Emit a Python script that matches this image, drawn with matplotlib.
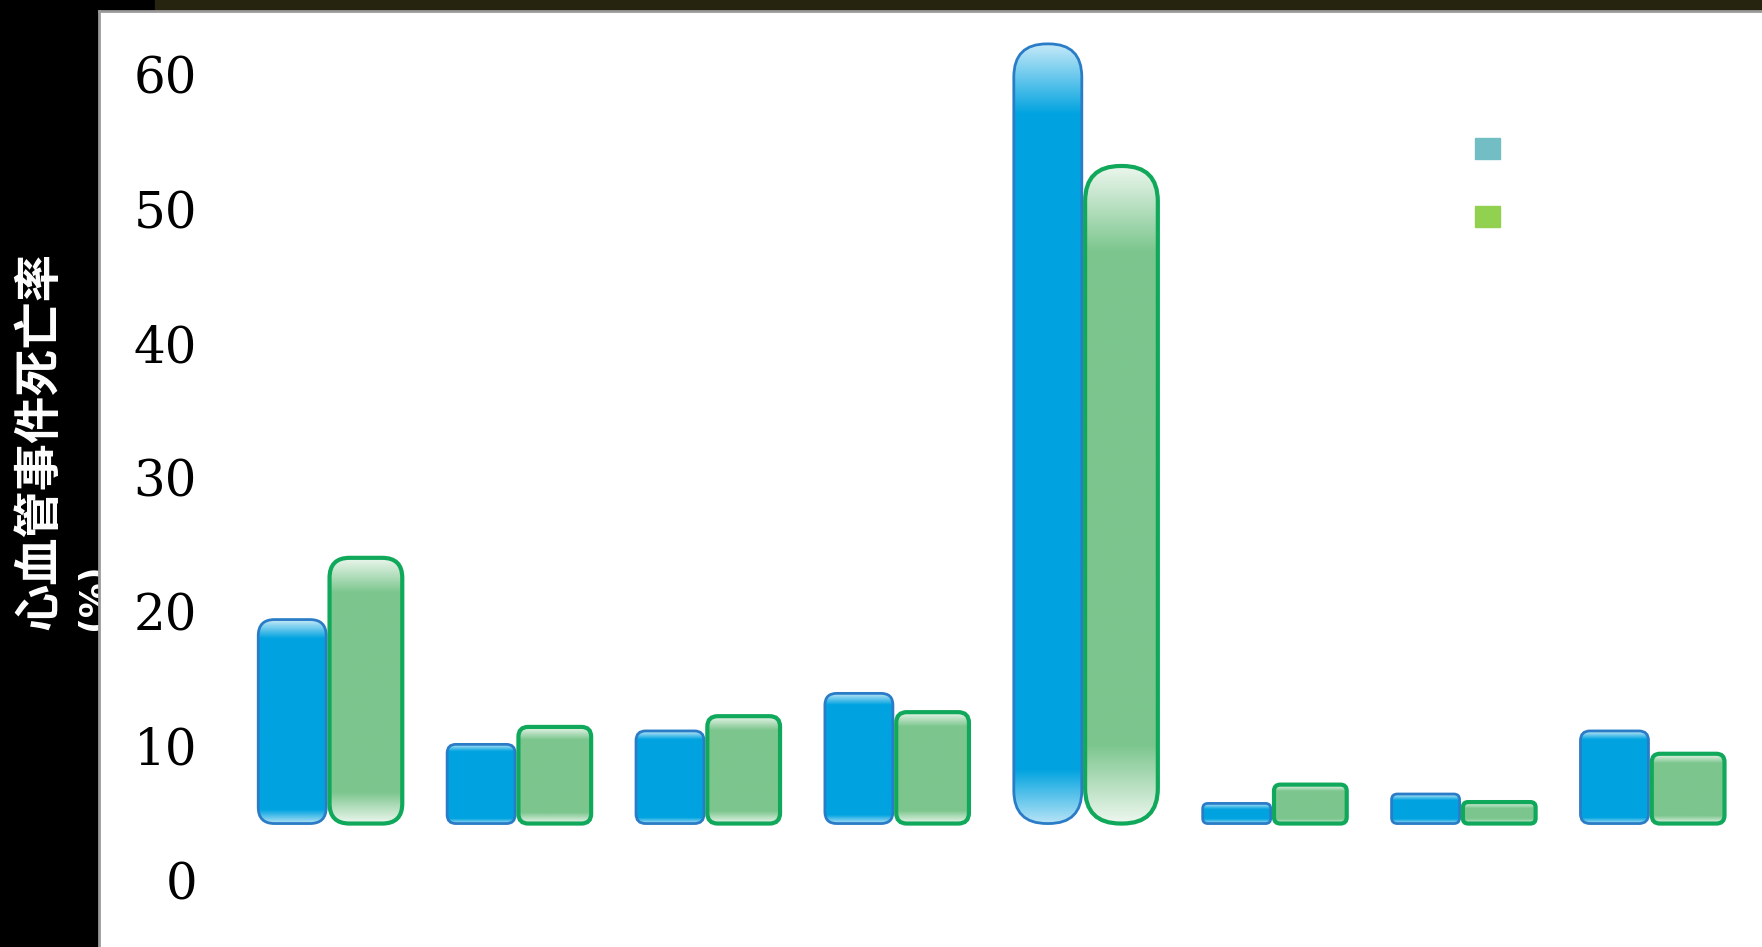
import numpy as np
import matplotlib
matplotlib.use('Agg')
import matplotlib.pyplot as plt
from matplotlib.patches import FancyBboxPatch, Patch, Rectangle

# ---- data ----
groups = np.arange(8)
series_a = [19.4, 10.1, 11.1, 13.9, 62.3, 5.7, 6.4, 11.1]
series_b = [24.0, 11.4, 12.2, 12.5, 53.2, 7.1, 5.8, 9.4]
base = 4.2
yticks = [0, 10, 20, 30, 40, 50, 60]
ylabel = "心血管事件死亡率"
ylabel_unit = "(%)"
legend_colors = ['#72BEC4', '#92D050']

W, H = 1762, 947
fig = plt.figure(figsize=(W / 100, H / 100), dpi=100, facecolor='black')
# top dark strip
fig.patches.append(Rectangle((155 / W, 1 - 11 / H), 1, 11 / H, transform=fig.transFigure,
                             color='#26240f', zorder=-2))
ax = fig.add_axes([99 / W, 0, 1 - 99 / W, (H - 11) / H])
ax.set_facecolor('white')
xlim = (-1.218, 7.586)
ylim = (-5.0, 64.75)
ax.set_xlim(*xlim)
ax.set_ylim(*ylim)

px_x = (W - 99) / (xlim[1] - xlim[0])
px_y = (H - 11) / (ylim[1] - ylim[0])

bars_a = ax.bar(groups - 0.195, np.array(series_a) - base, bottom=base, width=0.36, alpha=0)
bars_b = ax.bar(groups + 0.195, np.array(series_b) - base, bottom=base, width=0.385, alpha=0)


def hex2rgb(h):
    h = h.lstrip('#')
    return np.array([int(h[i:i + 2], 16) / 255 for i in (0, 2, 4)])


def fancy(rect, body, light, edge, lw, lt, lb, ts, bs):
    x0, y0, w, h = rect.get_x(), rect.get_y(), rect.get_width(), rect.get_height()
    wpx, hpx = w * px_x, h * px_y
    R = min(0.06 * hpx + 4, wpx / 2 - 1)
    r = R / px_x
    m = px_x / px_y
    patch = FancyBboxPatch((x0, y0), w, h, boxstyle=f"round,pad=0,rounding_size={r}",
                           mutation_aspect=m, fc='none', ec=edge, lw=lw, zorder=3)
    ax.add_patch(patch)
    n = max(int(hpx), 2)
    d = (np.arange(n) + 0.5) * hpx / n
    Lt = max(lt * hpx, 6)
    Lb = max(lb * hpx, 5)
    wt = np.clip(1 - d / Lt, 0, 1)
    wb = np.clip(1 - (hpx - d) / Lb, 0, 1)
    wgt = np.maximum(wt * ts, wb * bs)
    b = hex2rgb(body)
    l = hex2rgb(light)
    cols = b[None, :] * (1 - wgt[:, None]) + l[None, :] * wgt[:, None]
    img = np.repeat(cols[:, None, :], 2, axis=1)
    im = ax.imshow(img, extent=[x0, x0 + w, y0, y0 + h], origin='upper', aspect='auto',
                   zorder=2, interpolation='bilinear')
    im.set_clip_path(patch)


for rect in bars_a:
    fancy(rect, '#00A3E0', '#E8F5FC', '#2A7CC7', 2.0, 0.09, 0.07, 0.85, 0.8)
for rect in bars_b:
    fancy(rect, '#7CC68E', '#F6FBF6', '#10A85A', 3.0, 0.13, 0.12, 0.92, 0.95)

ax.set_xlim(*xlim)
ax.set_ylim(*ylim)
ax.set_xticks([])
ax.set_yticks(yticks)
ax.set_yticklabels([str(t) for t in yticks], fontfamily='DejaVu Serif', fontsize=36, color='black')
ax.tick_params(axis='y', length=0, pad=-70.6)
for s in ('bottom', 'right'):
    ax.spines[s].set_visible(False)
for s in ('left', 'top'):
    ax.spines[s].set_color('#9a9a9a')
    ax.spines[s].set_linewidth(2)

handles = [Patch(color=c) for c in legend_colors]
ax.legend(handles, [' ', ' '], loc='upper left', bbox_to_anchor=(1475 / W, 1 - 136 / H),
          bbox_transform=fig.transFigure, frameon=False, fontsize=20, borderpad=0,
          borderaxespad=0, handlelength=0.9, handleheight=0.82, labelspacing=1.45)

fig.text(39 / W, 1 - 441 / H, ylabel, rotation=90, color='white', fontsize=34, fontweight='bold',
         family=['Noto Sans CJK SC', 'DejaVu Sans'], ha='center', va='center')
fig.text(93 / W, 1 - 597 / H, ylabel_unit, rotation=90, color='white', fontsize=25, fontweight='bold',
         family=['DejaVu Sans'], ha='center', va='center', zorder=-1)

fig.savefig('out.png', dpi=100, facecolor='black')
